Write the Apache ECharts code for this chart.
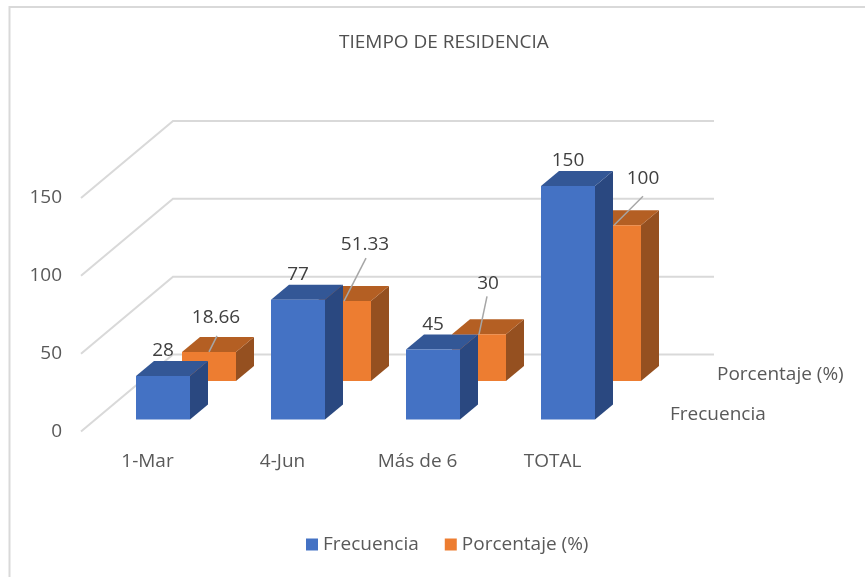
<!DOCTYPE html>
<html><head><meta charset="utf-8">
<style>html,body{margin:0;padding:0;background:#fff}#c{width:865px;height:577px}</style>
<script src="https://cdn.jsdelivr.net/npm/echarts@6/dist/echarts.min.js"></script>
</head><body><div id="c"></div>
<script>
const titleText = 'TIEMPO DE RESIDENCIA';
const categories = ['1-Mar', '4-Jun', 'Más de 6', 'TOTAL'];
const frecuencia = [28, 77, 45, 150];
const porcentaje = [18.66, 51.33, 30, 100];
const gridValues = [0, 50, 100, 150];
const seriesNames = ['Frecuencia', 'Porcentaje (%)'];

// label placement relative to the top-front centre of each orange bar
const pctLabelOffsets = [[7, -35], [21, -58], [9, -52], [29, -48]];
const pctLeaderEnds = [[8, -16], [22, -43], [8, -38], [29, -29]];

const FONT = '"Open Sans", sans-serif';
const DEPTH = [92, -77], BOX = [18, -15];

function box(api, idx, val, dx, dy, cols) {
  const p0 = api.coord([idx, 0]), p = api.coord([idx, val]);
  const w = api.size([1, 0])[0] * 0.4;
  const l = p0[0] + dx, r = l + w, b = p0[1] + dy, t = p[1] + dy;
  const bx = BOX[0], by = BOX[1];
  return {
    l, r, t, w,
    els: [
      {type:'polygon', shape:{points:[[r,t],[r+bx,t+by],[r+bx,b+by],[r,b]]}, style:{fill:cols[2]}},
      {type:'polygon', shape:{points:[[l,t],[l+bx,t+by],[r+bx,t+by],[r,t]]}, style:{fill:cols[1]}},
      {type:'rect', shape:{x:l,y:t,width:w,height:b-t}, style:{fill:cols[0]}}
    ]
  };
}
const labelStyle = {fill:'#404040', font:'19px '+FONT, align:'center', verticalAlign:'middle'};

const option = {
  backgroundColor:'#fff',
  animation:false,
  title:{text:titleText, left:339, top:33, padding:0, textStyle:{fontFamily:FONT,fontSize:19,fontWeight:'normal',color:'#505050'}},
  legend:{
    data:seriesNames, bottom:23, left:306, padding:0, icon:'rect', itemWidth:12, itemHeight:12, itemGap:26,
    textStyle:{fontFamily:FONT,fontSize:19,color:'#595959'}
  },
  grid:{left:80, width:540, top:198, height:233.5},
  xAxis:{type:'category', data:categories, axisLine:{show:false}, axisTick:{show:false}, splitLine:{show:false},
    axisLabel:{fontFamily:FONT,fontSize:19,color:'#595959',margin:21}},
  yAxis:{type:'value', min:0, max:150, interval:50, axisLine:{show:false}, axisTick:{show:false}, splitLine:{show:false},
    axisLabel:{fontFamily:FONT,fontSize:19,color:'#595959',margin:18,padding:[0,0,3,0]}},
  graphic:[
    {type:'polyline', shape:{points:[[9.5,577],[9.5,7],[865,7]]}, style:{fill:'none',stroke:'#d9d9d9',lineWidth:2}, silent:true, z:-1},
    {type:'text', left:717, top:365, style:{text:seriesNames[1], font:'19px '+FONT, fill:'#595959'}},
    {type:'text', left:670, top:405, style:{text:seriesNames[0], font:'19px '+FONT, fill:'#595959'}}
  ],
  series:[
    {type:'custom', name:'walls', coordinateSystem:'cartesian2d', z:1, silent:true,
     data:gridValues.map(v=>[0,v]),
     encode:{x:0,y:1},
     renderItem(params, api){
       const v = api.value(1), cs = params.coordSys;
       const y = api.coord([0,v])[1], x = cs.x;
       return {type:'polyline', shape:{points:[[x+1,y],[x+1+DEPTH[0],y+DEPTH[1]],[x+634,y+DEPTH[1]]]},
               style:{fill:'none',stroke:'#d9d9d9',lineWidth:2}};
     }},
    {type:'custom', name:seriesNames[1], coordinateSystem:'cartesian2d', z:2, silent:true,
     itemStyle:{color:'#ED7D31'},
     data:porcentaje.map((v,i)=>[i,v]),
     encode:{x:0,y:1},
     renderItem(params, api){
       const i = params.dataIndex, v = api.value(1);
       const B = box(api, i, v, 34.5, -50.5, ['#ED7D31','#B45F23','#955020']);
       const cx = B.l + B.w/2, t = B.t;
       const lo = pctLabelOffsets[i], le = pctLeaderEnds[i];
       return {type:'group', children:B.els.concat([
         {type:'line', shape:{x1:cx,y1:t,x2:cx+le[0],y2:t+le[1]}, style:{stroke:'#a6a6a6',lineWidth:1.5}},
         {type:'text', style:Object.assign({text:String(porcentaje[i]), x:cx+lo[0], y:t+lo[1]+1}, labelStyle)}
       ])};
     }},
    {type:'custom', name:seriesNames[0], coordinateSystem:'cartesian2d', z:3, silent:true,
     itemStyle:{color:'#4472C4'},
     data:frecuencia.map((v,i)=>[i,v]),
     encode:{x:0,y:1},
     renderItem(params, api){
       const i = params.dataIndex, v = api.value(1);
       const B = box(api, i, v, -11.5, -12, ['#4472C4','#335796','#2A4880']);
       return {type:'group', children:B.els.concat([
         {type:'text', style:Object.assign({text:String(frecuencia[i]), x:B.l+B.w/2, y:B.t-25}, labelStyle)}
       ])};
     }}
  ]
};
const chart = echarts.init(document.getElementById('c'), null, {renderer:'canvas'});
chart.setOption(option);
</script></body></html>
